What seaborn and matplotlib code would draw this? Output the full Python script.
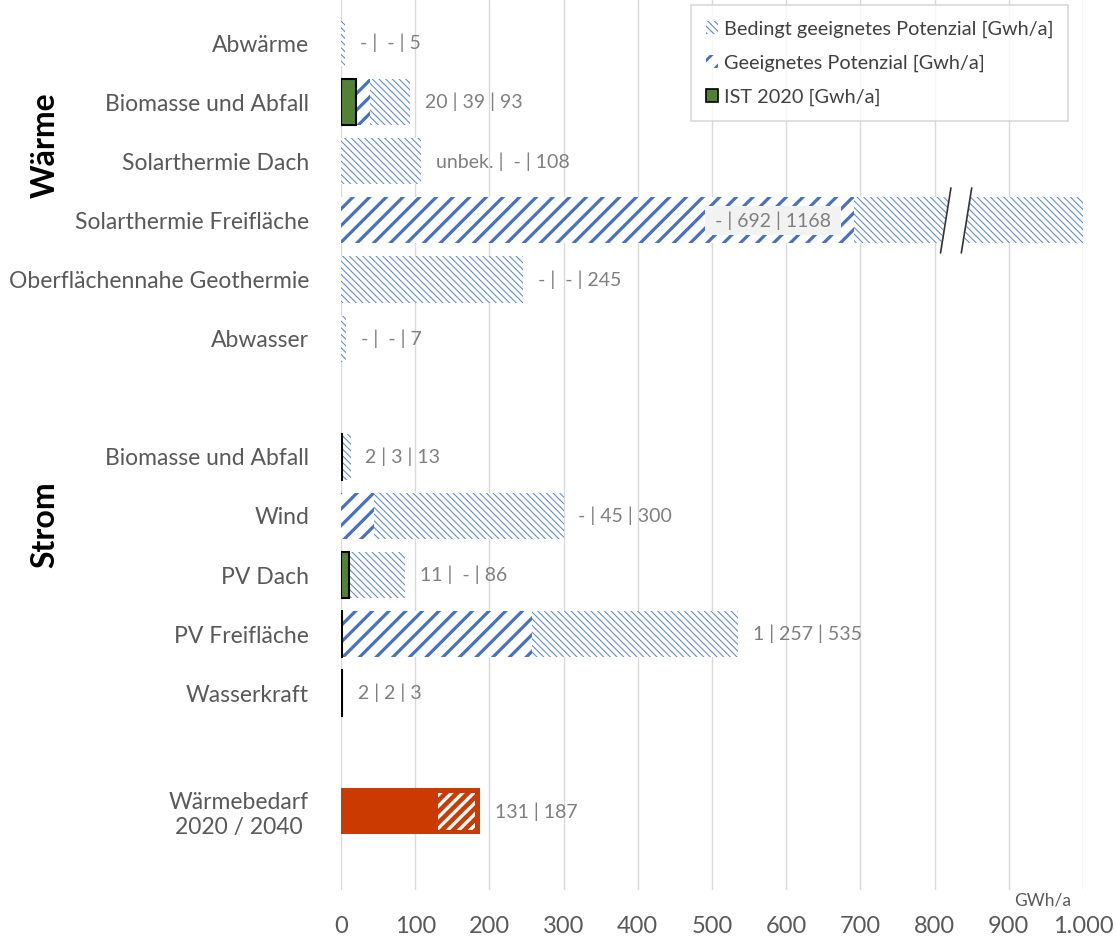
import numpy as np
import pandas as pd
import matplotlib
matplotlib.use("Agg")
import matplotlib.pyplot as plt
import seaborn as sns
from matplotlib.patches import Patch
from matplotlib.ticker import FuncFormatter

nan = np.nan

# Kategorien (leere Einträge = Abstand zwischen den Gruppen)
kategorien = ["Abwärme", "Biomasse und Abfall", "Solarthermie Dach", "Solarthermie Freifläche",
              "Oberflächennahe Geothermie", "Abwasser", "",
              "Biomasse und Abfall", "Wind", "PV Dach", "PV Freifläche", "Wasserkraft", "",
              "Wärmebedarf\n2020 / 2040"]
schluessel = ["k%d" % i for i in range(len(kategorien))]

# Werte in GWh/a
ist_2020 = [nan, 20, nan, nan, nan, nan, nan, 2, nan, 11, 1, 2, nan, nan]
geeignet = [nan, 39, nan, 692, nan, nan, nan, 3, 45, nan, 257, 2, nan, nan]
bedingt = [5, 93, 108, 1168, 245, 7, nan, 13, 300, 86, 535, 3, nan, nan]
bedarf_2040 = [nan] * 13 + [187]
bedarf_2020 = 131

beschriftung = ["- |  - | 5", "20 | 39 | 93", "unbek. |  - | 108", "- | 692 | 1168",
                "- |  - | 245", "- |  - | 7", "",
                "2 | 3 | 13", "- | 45 | 300", "11 |  - | 86", "1 | 257 | 535", "2 | 2 | 3", "",
                "131 | 187"]

df = pd.DataFrame({"key": schluessel, "ist": ist_2020, "geeignet": geeignet,
                   "bedingt": bedingt, "bedarf": bedarf_2040})

BLAU = "#4472C4"
HELLBLAU = "#5B8AD4"
GRUEN = "#548235"
ROT = "#CB3A00"
GRAU = "#595959"
XMAX = 1000

sns.set_style("white")
plt.rcParams["font.family"] = ["Lato", "DejaVu Sans"]

fig = plt.figure(figsize=(11.16, 9.41), dpi=100)
ax = fig.add_axes([341 / 1116, 1 - 890 / 941, 742 / 1116, 890 / 941])


def balken(spalte, hatch_lw, **kw):
    n0 = len(ax.patches)
    plt.rcParams["hatch.linewidth"] = hatch_lw
    sns.barplot(data=df, x=spalte, y="key", order=schluessel, orient="h",
                saturation=1, width=0.78, errorbar=None, ax=ax, **kw)
    for p in ax.patches[n0:]:
        if hasattr(p, "set_hatch_linewidth"):
            p.set_hatch_linewidth(hatch_lw)


FEIN = "\\" * 5
# bedingt geeignet (fein schraffiert)
balken("bedingt", 0.75, color="white", hatch=FEIN, edgecolor=HELLBLAU, linewidth=0)
# geeignet (grob schraffiert)
balken("geeignet", 2.3, color="white", hatch="//", edgecolor=BLAU, linewidth=0)
# IST 2020
balken("ist", 1.0, color=GRUEN, edgecolor="black", linewidth=1.5)
# Wärmebedarf
balken("bedarf", 1.0, color=ROT, linewidth=0)
plt.rcParams["hatch.linewidth"] = 2.4
p = ax.barh(13, width=bedarf_2040[13] - bedarf_2020 - 6, left=bedarf_2020, height=0.62,
            color=ROT, hatch="///", edgecolor="white", linewidth=0)
for b in p:
    if hasattr(b, "set_hatch_linewidth"):
        b.set_hatch_linewidth(2.4)

# Achsenbruch bei Solarthermie Freifläche
bruch, halb, schraeg = 829, 14, 7
ax.fill([bruch - halb + schraeg, bruch + halb + schraeg, bruch + halb - schraeg, bruch - halb - schraeg],
        [3 - 0.55, 3 - 0.55, 3 + 0.55, 3 + 0.55], color="white", zorder=5)
for dx in (-halb, halb):
    ax.plot([bruch + dx + schraeg, bruch + dx - schraeg], [3 - 0.55, 3 + 0.55],
            color="#333333", lw=1.2, zorder=6)

# Beschriftungen
for i, txt in enumerate(beschriftung):
    if not txt:
        continue
    if i == 3:
        ax.text(497, i, " " + txt + " ", va="center", ha="left", fontsize=14, color="#7f7f7f",
                zorder=7, bbox=dict(boxstyle="square,pad=0.25", fc="#f2f2f2", ec="none"))
        continue
    ende = np.nanmax([bedingt[i], geeignet[i], ist_2020[i], bedarf_2040[i]])
    ax.text(ende + 20, i, txt, va="center", ha="left", fontsize=14, color="#7f7f7f")

ax.set_xlim(0, XMAX)
ax.set_ylim(14.33, -0.73)
ax.set_xticks(range(0, 1001, 100))
ax.xaxis.set_major_formatter(FuncFormatter(lambda v, pos: f"{int(v):,}".replace(",", ".")))
ax.set_yticks(range(len(kategorien)))
ax.set_yticklabels(kategorien)
for t in ax.get_yticklabels():
    t.set_multialignment("center")
ax.set_xlabel("")
ax.set_ylabel("")
ax.tick_params(axis="x", length=0, pad=19, labelsize=17, labelcolor=GRAU)
ax.tick_params(axis="y", length=0, pad=23, labelsize=16.5, labelcolor=GRAU)
ax.grid(axis="x", color="#d9d9d9", lw=1)
ax.set_axisbelow(True)
sns.despine(ax=ax, left=True, bottom=True)

ax.text((1043 - 341) / 742, -0.012, "GWh/a", transform=ax.transAxes, ha="center", va="center",
        fontsize=12.5, color=GRAU)

fig.text(45 / 1116, 1 - 145 / 941, "Wärme", rotation=90, ha="center", va="center",
         fontsize=23, fontweight="bold", color="black")
fig.text(45 / 1116, 1 - 525 / 941, "Strom", rotation=90, ha="center", va="center",
         fontsize=23, fontweight="bold", color="black")

plt.rcParams["hatch.linewidth"] = 1.0
handles = [Patch(facecolor="white", edgecolor=HELLBLAU, hatch=FEIN, linewidth=0),
           Patch(facecolor="white", edgecolor=BLAU, hatch="//", linewidth=0),
           Patch(facecolor=GRUEN, edgecolor="black", linewidth=1.2)]
labels = ["Bedingt geeignetes Potenzial [Gwh/a]", "Geeignetes Potenzial [Gwh/a]", "IST 2020 [Gwh/a]"]
leg = ax.legend(handles, labels, loc="upper right", bbox_to_anchor=((1068 - 341) / 742, 0.994),
                borderaxespad=0, fontsize=14.3, frameon=True, fancybox=False, edgecolor="#d0d0d0",
                handlelength=0.6, handleheight=0.6, handletextpad=0.3, labelspacing=0.85,
                borderpad=0.75, labelcolor="#404040")
leg.get_frame().set_linewidth(1.2)
for h, w in zip(leg.legend_handles[:2], (0.8, 2.0)):
    if hasattr(h, "set_hatch_linewidth"):
        h.set_hatch_linewidth(w)

fig.savefig("out.png", dpi=100)
